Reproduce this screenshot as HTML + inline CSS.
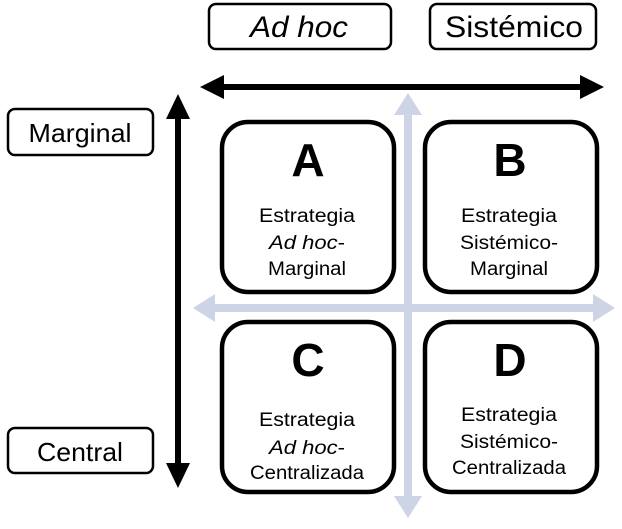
<!DOCTYPE html>
<html><head><meta charset="utf-8"><style>
body{margin:0;background:#fff}
svg text{font-family:"Liberation Sans",Arial,sans-serif;text-anchor:middle}
</style></head><body>
<svg width="622" height="524" viewBox="0 0 622 524" xmlns="http://www.w3.org/2000/svg">
<g fill="#cdd4e5">
<rect x="404" y="112" width="8" height="390"/>
<polygon points="408,93 394,115 422,115"/>
<polygon points="408,518 394,496 422,496"/>
<rect x="212" y="304" width="384" height="8"/>
<polygon points="193,308 215,294 215,322"/>
<polygon points="615,308 593,294 593,322"/>
</g>
<g fill="#000">
<rect x="220" y="84" width="362" height="6"/>
<polygon points="200,87 224,75 224,99"/>
<polygon points="604,87 580,75 580,99"/>
<rect x="175" y="114" width="6" height="352"/>
<polygon points="178,94 166,119 190,119"/>
<polygon points="178,488 166,463 190,463"/>
</g>
<g fill="#fff" stroke="#000" stroke-width="2.5">
<rect x="209" y="4" width="182" height="45" rx="7"/>
<rect x="430" y="4" width="166" height="45" rx="7"/>
<rect x="8" y="109" width="145" height="46" rx="7"/>
<rect x="8" y="428" width="145" height="45" rx="7"/>
</g>
<g fill="#fff" stroke="#000" stroke-width="4.5">
<rect x="222" y="122" width="172" height="170" rx="26"/>
<rect x="425" y="122" width="172" height="170" rx="26"/>
<rect x="222" y="322" width="172" height="170" rx="26"/>
<rect x="425" y="322" width="172" height="170" rx="26"/>
</g>
<g font-size="30">
<text x="299" y="37" font-style="italic" textLength="98" lengthAdjust="spacingAndGlyphs">Ad hoc</text>
<text x="514" y="37" textLength="138" lengthAdjust="spacingAndGlyphs">Sistémico</text>
<text x="80" y="142" font-size="26" textLength="103" lengthAdjust="spacingAndGlyphs">Marginal</text>
<text x="80" y="461" font-size="26" textLength="86" lengthAdjust="spacingAndGlyphs">Central</text>
</g>
<g font-size="46" font-weight="bold">
<text x="308" y="176">A</text>
<text x="510" y="176">B</text>
<text x="308" y="376">C</text>
<text x="510" y="376">D</text>
</g>
<g font-size="19">
<text x="307" y="222" textLength="96" lengthAdjust="spacingAndGlyphs">Estrategia</text>
<text x="307" y="249" font-style="italic" textLength="76" lengthAdjust="spacingAndGlyphs">Ad hoc<tspan font-style="normal">-</tspan></text>
<text x="307" y="275" textLength="78" lengthAdjust="spacingAndGlyphs">Marginal</text>
<text x="509" y="222" textLength="96" lengthAdjust="spacingAndGlyphs">Estrategia</text>
<text x="509" y="249" textLength="98" lengthAdjust="spacingAndGlyphs">Sistémico-</text>
<text x="509" y="275" textLength="78" lengthAdjust="spacingAndGlyphs">Marginal</text>
<text x="307" y="426" textLength="96" lengthAdjust="spacingAndGlyphs">Estrategia</text>
<text x="307" y="454" font-style="italic" textLength="76" lengthAdjust="spacingAndGlyphs">Ad hoc<tspan font-style="normal">-</tspan></text>
<text x="307" y="479" textLength="114" lengthAdjust="spacingAndGlyphs">Centralizada</text>
<text x="509" y="421" textLength="96" lengthAdjust="spacingAndGlyphs">Estrategia</text>
<text x="509" y="448" textLength="98" lengthAdjust="spacingAndGlyphs">Sistémico-</text>
<text x="509" y="474" textLength="114" lengthAdjust="spacingAndGlyphs">Centralizada</text>
</g>
</svg>
</body></html>
